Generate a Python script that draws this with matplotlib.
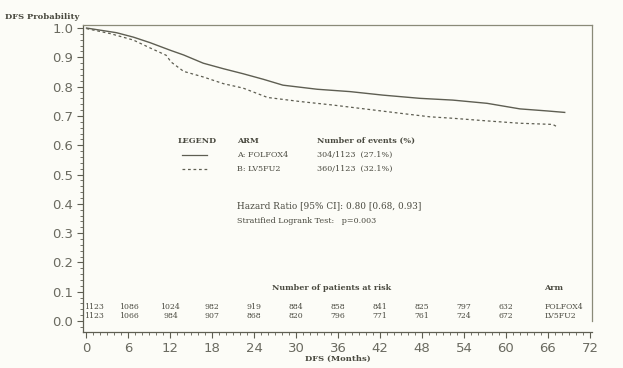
import matplotlib
matplotlib.use("Agg")
from matplotlib import pyplot as plt
from matplotlib.ticker import MultipleLocator

# DFS curves (months, probability)
folfox_t = [0, 4.3, 6.7, 9.1, 12.0, 13.9, 16.7, 19.6, 22.4, 25.3, 28.1, 33.0,
            37.7, 42.4, 47.7, 52.4, 57.3, 62.0, 65.9, 68.4]
folfox_s = [1.0, 0.984, 0.969, 0.950, 0.924, 0.908, 0.880, 0.861, 0.844, 0.825,
            0.805, 0.791, 0.783, 0.771, 0.760, 0.754, 0.743, 0.724, 0.717, 0.712]

lv5fu2_t = [0, 3.4, 6.7, 9.1, 11.4, 12.1, 13.9, 16.7, 19.6, 22.4, 25.9, 30.6,
            35.3, 40.1, 44.9, 49.1, 52.4, 57.3, 62.0, 66.7, 67.3]
lv5fu2_s = [0.998, 0.981, 0.959, 0.932, 0.907, 0.884, 0.852, 0.833, 0.810,
            0.795, 0.763, 0.749, 0.737, 0.723, 0.709, 0.697, 0.692, 0.683,
            0.675, 0.671, 0.663]

# number at risk
risk_months = [0, 6, 12, 18, 24, 30, 36, 42, 48, 54, 60]
risk_folfox = [1123, 1086, 1024, 982, 919, 884, 858, 841, 825, 797, 632]
risk_lv5fu2 = [1123, 1066, 984, 907, 868, 820, 796, 771, 761, 724, 672]

arms = ["A: FOLFOX4", "B: LV5FU2"]
events = ["304/1123  (27.1%)", "360/1123  (32.1%)"]
arm_short = ["FOLFOX4", "LV5FU2"]

ink = "#5e5e52"
txt = "#4a4a40"
bg = "#fcfcf7"

fig = plt.figure(figsize=(6.23, 3.68), dpi=100, facecolor=bg)
ax = fig.add_axes([0.1332, 0.0978, 0.817, 0.834], facecolor=bg)

ax.plot(folfox_t, folfox_s, color=ink, lw=1.0)
ax.plot(lv5fu2_t, lv5fu2_s, color=ink, lw=0.9, ls=(0, (2.2, 2.2)))

ax.set_xlim(-0.5, 72.3)
ax.set_ylim(-0.0375, 1.01)
ax.set_xticks(range(0, 73, 6))
ax.set_yticks([i / 10 for i in range(11)])
ax.set_yticklabels([f"{i / 10:.1f}" for i in range(11)])
ax.xaxis.set_minor_locator(MultipleLocator(1))
ax.yaxis.set_minor_locator(MultipleLocator(0.02))
ax.tick_params(axis="both", which="major", length=4, width=0.8, color=ink,
               labelsize=9.5, labelcolor="#6a6a60", pad=3)
ax.tick_params(axis="both", which="minor", length=2, width=0.6, color=ink)
for s in ax.spines.values():
    s.set_color("#8a8a78")
    s.set_linewidth(0.9)
ax.spines["right"].set_bounds(-0.0, 1.01)
ax.spines["left"].set_color(ink)
ax.spines["bottom"].set_color(ink)

serif = "DejaVu Serif"
fs = 5.8

fig.text(0.008, 0.948, "DFS Probability", fontsize=6, fontweight="bold",
         family=serif, color=txt)
ax.set_xlabel("DFS (Months)", fontsize=6, fontweight="bold", family=serif,
              color=txt, labelpad=0)

# legend block
ax.text(13.0, 0.615, "LEGEND", fontsize=fs, fontweight="bold", family=serif,
        color=txt, va="center")
ax.text(21.6, 0.615, "ARM", fontsize=fs, fontweight="bold", family=serif,
        color=txt, va="center")
ax.text(33.0, 0.615, "Number of events (%)", fontsize=fs, fontweight="bold",
        family=serif, color=txt, va="center")
ax.plot([13.7, 17.3], [0.567, 0.567], color=ink, lw=0.9)
ax.plot([13.7, 17.3], [0.519, 0.519], color=ink, lw=0.9, ls=(0, (2.2, 2.2)))
for i in range(2):
    y = 0.567 - i * 0.048
    ax.text(21.6, y, arms[i], fontsize=fs, family=serif, color=txt, va="center")
    ax.text(33.0, y, events[i], fontsize=fs, family=serif, color=txt,
            va="center")

ax.text(21.6, 0.393, "Hazard Ratio [95% CI]: 0.80 [0.68, 0.93]", fontsize=6.4,
        family=serif, color=txt, va="center")
ax.text(21.6, 0.341, "Stratified Logrank Test:   p=0.003", fontsize=5.8,
        family=serif, color=txt, va="center")

# patients at risk
ax.text(35.0, 0.113, "Number of patients at risk", fontsize=fs,
        fontweight="bold", family=serif, color=txt, ha="center", va="center")
ax.text(65.5, 0.113, "Arm", fontsize=fs, fontweight="bold", family=serif,
        color=txt, va="center")
for m, a, b in zip(risk_months, risk_folfox, risk_lv5fu2):
    xm = m + 1.0 if m == 0 else m
    ax.text(xm, 0.048, str(a), fontsize=5.6, family=serif, color=txt,
            ha="center", va="center")
    ax.text(xm, 0.018, str(b), fontsize=5.6, family=serif, color=txt,
            ha="center", va="center")
ax.text(65.5, 0.048, arm_short[0], fontsize=5.6, family=serif, color=txt,
        va="center")
ax.text(65.5, 0.018, arm_short[1], fontsize=5.6, family=serif, color=txt,
        va="center")

fig.savefig("out.png", dpi=100, facecolor=bg)
